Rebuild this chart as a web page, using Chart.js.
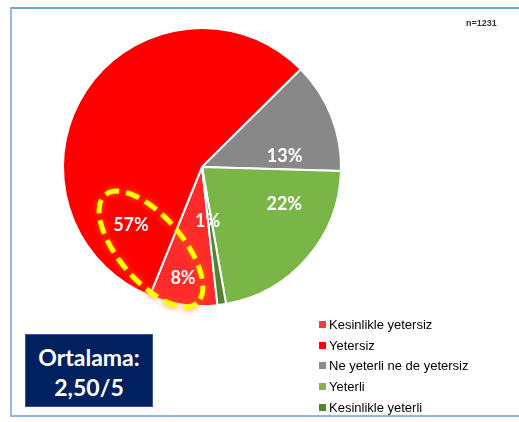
<!DOCTYPE html>
<html>
<head>
<meta charset="utf-8">
<script src="https://cdn.jsdelivr.net/npm/chart.js@4"></script>
<style>
  body { margin: 0; background: #fff; }
  #wrap { position: relative; width: 519px; height: 422px; overflow: hidden; }
  #frame { position: absolute; left: 10px; top: 7px; width: 530px; height: 406px; border: 2px solid #8fb8e6; border-top-color: #6fa5de; border-right: none; }
  #c { position: absolute; left: 0; top: 0; }
  #n { position: absolute; left: 466px; top: 18px; font: bold 9px "Liberation Sans", Arial, sans-serif; color: #333; }
  #avg { position: absolute; left: 25px; top: 334px; width: 128px; height: 73px; background: #002060; border: 1px solid #2f5597;
         color: #fff; font: bold 23px Lato, sans-serif; text-align: center; line-height: 30px; padding-top: 7px; box-sizing: border-box; }
  #legend { position: absolute; left: 319px; top: 314px; font: 13px "Liberation Sans", Arial, sans-serif; color: #000; }
  .item { height: 20.7px; display: flex; align-items: center; }
  .box { width: 7px; height: 7px; margin-right: 3px; }
</style>
</head>
<body>
<div id="wrap">
  <div id="frame"></div>
  <canvas id="c" width="519" height="422"></canvas>
  <div id="n">n=1231</div>
  <div id="avg">Ortalama:<br>2,50/5</div>
  <div id="legend"></div>
</div>
<script>
const labels = ['Kesinlikle yetersiz', 'Yetersiz', 'Ne yeterli ne de yetersiz', 'Yeterli', 'Kesinlikle yeterli']
const values = [8, 57, 13, 22, 1]
const colors = ['#ff2b2b', '#ff0000', '#888888', '#79b547', '#548235']
const legendColors = ['#f53d3d', '#ff0000', '#8c8c8c', '#7cb84e', '#548235']
// where each label sits inside its slice: fraction along the arc, fraction of radius
const labelAlong = [0.565, 0.141, 0.8, 0.29, 1.1]
const labelRadius = [0.81, 0.66, 0.6, 0.65, 0.39]

let legend = document.getElementById('legend')
labels.forEach((l, i) => {
    legend.innerHTML += '<div class="item"><span class="box" style="background:' + legendColors[i] + '"></span>' + l + '</div>'
})

const pctLabels = {
    id: 'pctLabels',
    afterDatasetsDraw(chart) {
        let ctx = chart.ctx
        let meta = chart.getDatasetMeta(0)
        ctx.save()
        ctx.font = 'bold 18px Lato, sans-serif'
        ctx.fillStyle = '#fff'
        ctx.textAlign = 'center'
        ctx.textBaseline = 'middle'
        meta.data.forEach((arc, i) => {
            let a = arc.startAngle + (arc.endAngle - arc.startAngle) * labelAlong[i]
            let r = arc.outerRadius * labelRadius[i]
            ctx.fillText(values[i] + '%', arc.x + Math.cos(a) * r, arc.y + Math.sin(a) * r)
        })
        // yellow dashed ellipse round the two "yetersiz" labels
        let arc = meta.data[0]
        let R = arc.outerRadius
        ctx.translate(arc.x - 0.367 * R, arc.y + 0.59 * R)
        ctx.rotate(49.7 * Math.PI / 180)
        ctx.beginPath()
        ctx.ellipse(0, 0, 0.51 * R, 0.23 * R, 0, 0, Math.PI * 2)
        ctx.setLineDash([14, 7])
        ctx.lineWidth = 5
        ctx.strokeStyle = '#ffff00'
        ctx.shadowColor = 'rgba(255,110,0,0.95)'
        ctx.shadowBlur = 6
        ctx.stroke()
        ctx.restore()
    }
}

new Chart(document.getElementById('c').getContext('2d'), {
    type: 'pie',
    data: {
        labels: labels,
        datasets: [{
            data: values,
            backgroundColor: colors,
            borderColor: '#fff',
            borderWidth: 2
        }]
    },
    options: {
        responsive: false,
        animation: false,
        events: [],
        rotation: 173.6,
        layout: { padding: { left: 62, top: 27, right: 177, bottom: 115 } },
        plugins: {
            legend: { display: false },
            tooltip: { enabled: false }
        }
    },
    plugins: [pctLabels]
})
</script>
</body>
</html>
